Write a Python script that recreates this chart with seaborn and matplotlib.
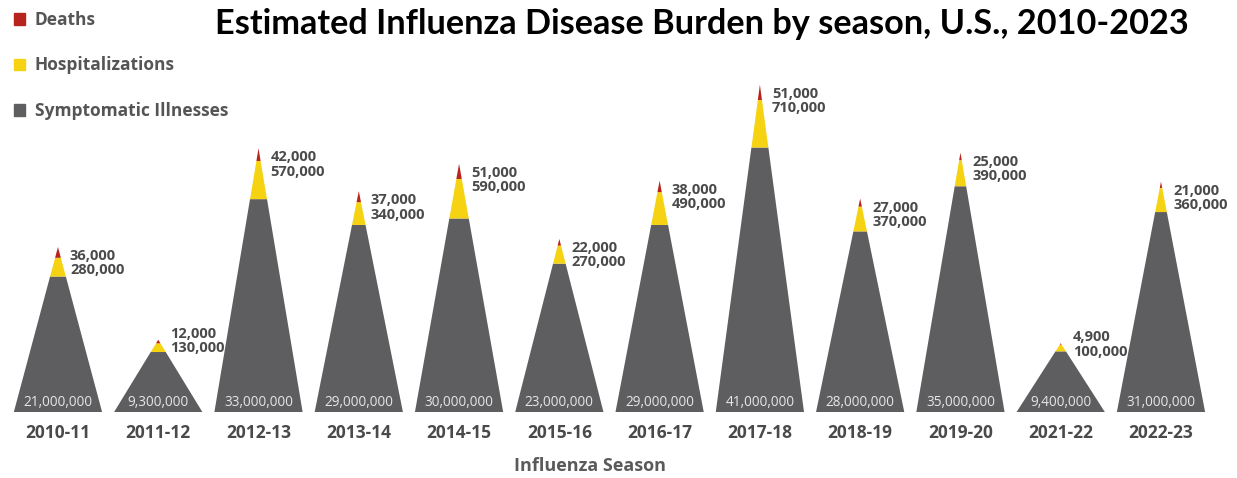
import numpy as np
import pandas as pd
import matplotlib.pyplot as plt
import seaborn as sns
from matplotlib.patches import Patch

# estimated burden per season (from the CDC pyramid graphic)
seasons = ['2010-11', '2011-12', '2012-13', '2013-14', '2014-15', '2015-16',
           '2016-17', '2017-18', '2018-19', '2019-20', '2021-22', '2022-23']
illnesses = [21000000, 9300000, 33000000, 29000000, 30000000, 23000000,
             29000000, 41000000, 28000000, 35000000, 9400000, 31000000]
hospitalizations = [280000, 130000, 570000, 340000, 590000, 270000,
                    490000, 710000, 370000, 390000, 100000, 360000]
deaths = [36000, 12000, 42000, 37000, 51000, 22000,
          38000, 51000, 27000, 25000, 4900, 21000]

df = pd.DataFrame({'season': seasons, 'ill': illnesses,
                   'hosp': hospitalizations, 'death': deaths})

# each layer gets its own vertical scale (pixels per person), like the original
df['h_ill'] = df['ill'] * 6.45e-6
df['h_hosp'] = df['hosp'] * 67e-6
df['h_death'] = df['death'] * 300e-6
df['total'] = df['h_ill'] + df['h_hosp'] + df['h_death']

GRAY = '#5e5e61'
YELLOW = '#f6d312'
RED = '#b7241d'
TEXT = '#4a4a4a'

sns.set_style('white')
plt.rcParams['font.family'] = ['Open Sans', 'DejaVu Sans']

fig = plt.figure(figsize=(12.37, 4.78), dpi=100)
ax = fig.add_axes([0, 0, 1, 1])

half = 0.44
for i, row in df.iterrows():
    H = row['total']
    bounds = [0, row['h_ill'], row['h_ill'] + row['h_hosp'], H]
    for (y0, y1), c in zip(zip(bounds[:-1], bounds[1:]), [GRAY, YELLOW, RED]):
        w0 = half * (1 - y0 / H)
        w1 = half * (1 - y1 / H)
        ax.fill([i - w0, i + w0, i + w1, i - w1], [y0, y0, y1, y1],
                color=c, linewidth=0)

    ax.text(i, 9, f"{row['ill']:,}", ha='center', va='center',
            fontsize=9.8, color='#e6e6e6')
    ax.text(i, -21, row['season'], ha='center', va='center',
            fontsize=12.5, fontweight='bold', color=TEXT)

    # small pyramids get their labels lifted above the tip
    top = H - 9 if H > 100 else H + 6
    ax.text(i + 0.12, top, f"{row['death']:,}", ha='left', va='center',
            fontsize=10.5, fontweight='bold', color=TEXT)
    ax.text(i + 0.12, top - 14.5, f"{row['hosp']:,}", ha='left', va='center',
            fontsize=10.5, fontweight='bold', color=TEXT)

ax.set_xlim(-0.578, 11.758)
ax.set_ylim(-66, 412)
ax.axis('off')

ax.text(5.31, -54, 'Influenza Season', ha='center', va='center',
        fontsize=13, fontweight='bold', color='#5a5a5a')
ax.text(6.42, 388, 'Estimated Influenza Disease Burden by season, U.S., 2010-2023',
        ha='center', va='center', fontsize=24.7, fontweight='bold',
        color='black', family=['Lato', 'DejaVu Sans'])

handles = [Patch(color=RED, label='Deaths'),
           Patch(color=YELLOW, label='Hospitalizations'),
           Patch(color=GRAY, label='Symptomatic Illnesses')]
fig.legend(handles=handles, loc='upper left', bbox_to_anchor=(14 / 1237, 1 - 11 / 478),
           frameon=False, borderpad=0, borderaxespad=0, handlelength=0.65,
           handleheight=0.65, handletextpad=0.55, labelspacing=1.58,
           prop={'weight': 'bold', 'size': 12.5}, labelcolor='#555555')

fig.savefig('out.png', dpi=100)
